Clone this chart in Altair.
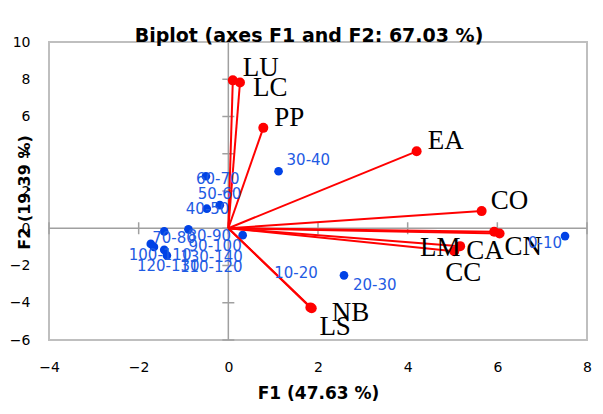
import altair as alt
import pandas as pd

# ---- data ----
var_names = ["LU", "LC", "PP", "EA", "CO", "CN", "CA", "LM", "CC", "NB", "LS"]
var_f1 = [0.10, 0.26, 0.78, 4.20, 5.65, 6.05, 5.93, 5.17, 5.04, 1.86, 1.83]
var_f2 = [7.94, 7.83, 5.39, 4.13, 0.92, -0.28, -0.19, -0.96, -1.23, -4.30, -4.25]

obs_names = ["0-10", "10-20", "20-30", "30-40", "40-50", "50-60", "60-70",
             "70-80", "80-90", "90-100", "100-110", "110-120", "120-130", "130-140"]
obs_f1 = [7.51, 1.85, 2.58, 1.12, -0.48, -0.19, -0.50, -1.43, -0.89, 0.32,
          -1.73, -1.37, -1.66, -1.43]
obs_f2 = [-0.42, -4.28, -2.53, 3.06, 1.05, 1.24, 2.79, -0.17, -0.06, -0.37,
          -0.84, -1.46, -1.00, -1.16]

x_ticks = [-4, -2, 0, 2, 4, 6, 8]
y_ticks = [-6, -4, -2, 0, 2, 4, 6, 8, 10]

title_text = "Biplot (axes F1 and F2: 67.03 %)"
x_title = "F1 (47.63 %)"
y_title = "F2 (19.39 %)"

# ---- label placement (pixel offsets from each point: align, dx, dy) ----
var_label_pos = {
    "LU": ("left", 10, -4), "LC": ("left", 13, 14), "PP": ("left", 11, -2),
    "EA": ("left", 11, -2), "CO": ("left", 9, -2), "CN": ("left", 5, 22),
    "CA": ("left", -28, 27), "LM": ("left", -40, 10), "CC": ("left", -9, 30),
    "NB": ("left", 20, 13), "LS": ("left", 9, 28),
}
obs_label_pos = {
    "0-10": ("right", -3, 7), "10-20": ("left", -37, -35), "20-30": ("left", 9, 10),
    "30-40": ("left", 8, -11), "40-50": ("left", -21, 0), "50-60": ("left", -22, -11),
    "60-70": ("left", -10, 3), "70-80": ("left", -12, 7), "80-90": ("left", -1, 7),
    "90-100": ("right", -1, 11), "100-110": ("left", -22, 11), "110-120": ("left", 13, 12),
    "120-130": ("left", -17, 19), "130-140": ("left", 16, 7),
}

RED = "#FF0000"
BLUE_DOT = "#0042E6"
BLUE_TXT = "#1F5BE3"
AXIS_GRAY = "#A0A0A0"

vars_df = pd.DataFrame({"name": var_names, "f1": var_f1, "f2": var_f2})
vars_df["o1"] = 0.0
vars_df["o2"] = 0.0
obs_df = pd.DataFrame({"name": obs_names, "f1": obs_f1, "f2": obs_f2})

xscale = alt.Scale(domain=[-4, 8], nice=False, zero=False)
yscale = alt.Scale(domain=[-6, 10], nice=False, zero=False)
xaxis = alt.Axis(values=x_ticks, grid=False, domain=False, ticks=False, tickSize=0,
                 labelPadding=20, labelFont="DejaVu Sans", labelFontSize=14,
                 labelColor="#000000", labelFlush=False, labelOverlap=False,
                 title=x_title, titleFont="DejaVu Sans", titleFontSize=17,
                 titleFontWeight="bold", titleColor="#000000",
                 titleY=58.5, titleBaseline="alphabetic")
yaxis = alt.Axis(values=y_ticks, grid=False, domain=False, ticks=False, tickSize=0,
                 labelPadding=19, labelFont="DejaVu Sans", labelFontSize=14,
                 labelColor="#000000", labelFlush=False, labelOverlap=False,
                 title=y_title, titleFont="DejaVu Sans", titleFontSize=16,
                 titleFontWeight="bold", titleColor="#000000",
                 titleX=-25, titleY=150, titleAngle=270,
                 titleAlign="center", titleBaseline="middle")


def X(field):
    return alt.X(field, type="quantitative", scale=xscale, axis=xaxis)


def Y(field):
    return alt.Y(field, type="quantitative", scale=yscale, axis=yaxis)


zero_df = pd.DataFrame({"z": [0.0]})
vzero = alt.Chart(zero_df).mark_rule(color=AXIS_GRAY, strokeWidth=1.5).encode(x=X("z"))
hzero = alt.Chart(zero_df).mark_rule(color=AXIS_GRAY, strokeWidth=1.5).encode(y=Y("z"))

yt_df = pd.DataFrame({"t": y_ticks, "z": 0.0})
xt_df = pd.DataFrame({"t": x_ticks, "z": 0.0})
yticks = alt.Chart(yt_df).mark_tick(orient="horizontal", size=12, thickness=1.5,
                                    color=AXIS_GRAY, opacity=1).encode(x=X("z"), y=Y("t"))
xticks = alt.Chart(xt_df).mark_tick(orient="vertical", size=12, thickness=1.5,
                                    color=AXIS_GRAY, opacity=1).encode(x=X("t"), y=Y("z"))

obs_pts = alt.Chart(obs_df).mark_circle(size=75, color=BLUE_DOT, opacity=1).encode(
    x=X("f1"), y=Y("f2"))

arrows = alt.Chart(vars_df).mark_rule(color=RED, strokeWidth=2).encode(
    x=X("o1"), y=Y("o2"), x2="f1", y2="f2")
var_pts = alt.Chart(vars_df).mark_circle(size=100, color=RED, opacity=1).encode(
    x=X("f1"), y=Y("f2"))

layers = [vzero, hzero, yticks, xticks, obs_pts, arrows, var_pts]

for name, (align, dx, dy) in var_label_pos.items():
    layers.append(
        alt.Chart(vars_df).transform_filter(alt.datum.name == name)
        .mark_text(align=align, baseline="alphabetic", dx=dx, dy=dy,
                   font="Liberation Serif", fontSize=27, color="#000000")
        .encode(x=X("f1"), y=Y("f2"), text="name:N")
    )

for name, (align, dx, dy) in obs_label_pos.items():
    layers.append(
        alt.Chart(obs_df).transform_filter(alt.datum.name == name)
        .mark_text(align=align, baseline="middle", dx=dx, dy=dy,
                   font="DejaVu Sans", fontSize=15, color=BLUE_TXT)
        .encode(x=X("f1"), y=Y("f2"), text="name:N")
    )

chart = alt.layer(*layers).properties(
    width=538, height=298,
    title=alt.TitleParams(title_text, font="DejaVu Sans", fontSize=19,
                          fontWeight="bold", color="#000000", anchor="middle",
                          frame="group", baseline="alphabetic", offset=0,
                          dx=-9, dy=26),
    autosize=alt.AutoSizeParams(type="none"),
    padding={"left": 41, "top": 34, "right": 8, "bottom": 64},
    background="white",
).configure_view(stroke="#BFBFBF", strokeWidth=2)

chart.save("out.html", embed_options={"renderer": "svg", "actions": False})
